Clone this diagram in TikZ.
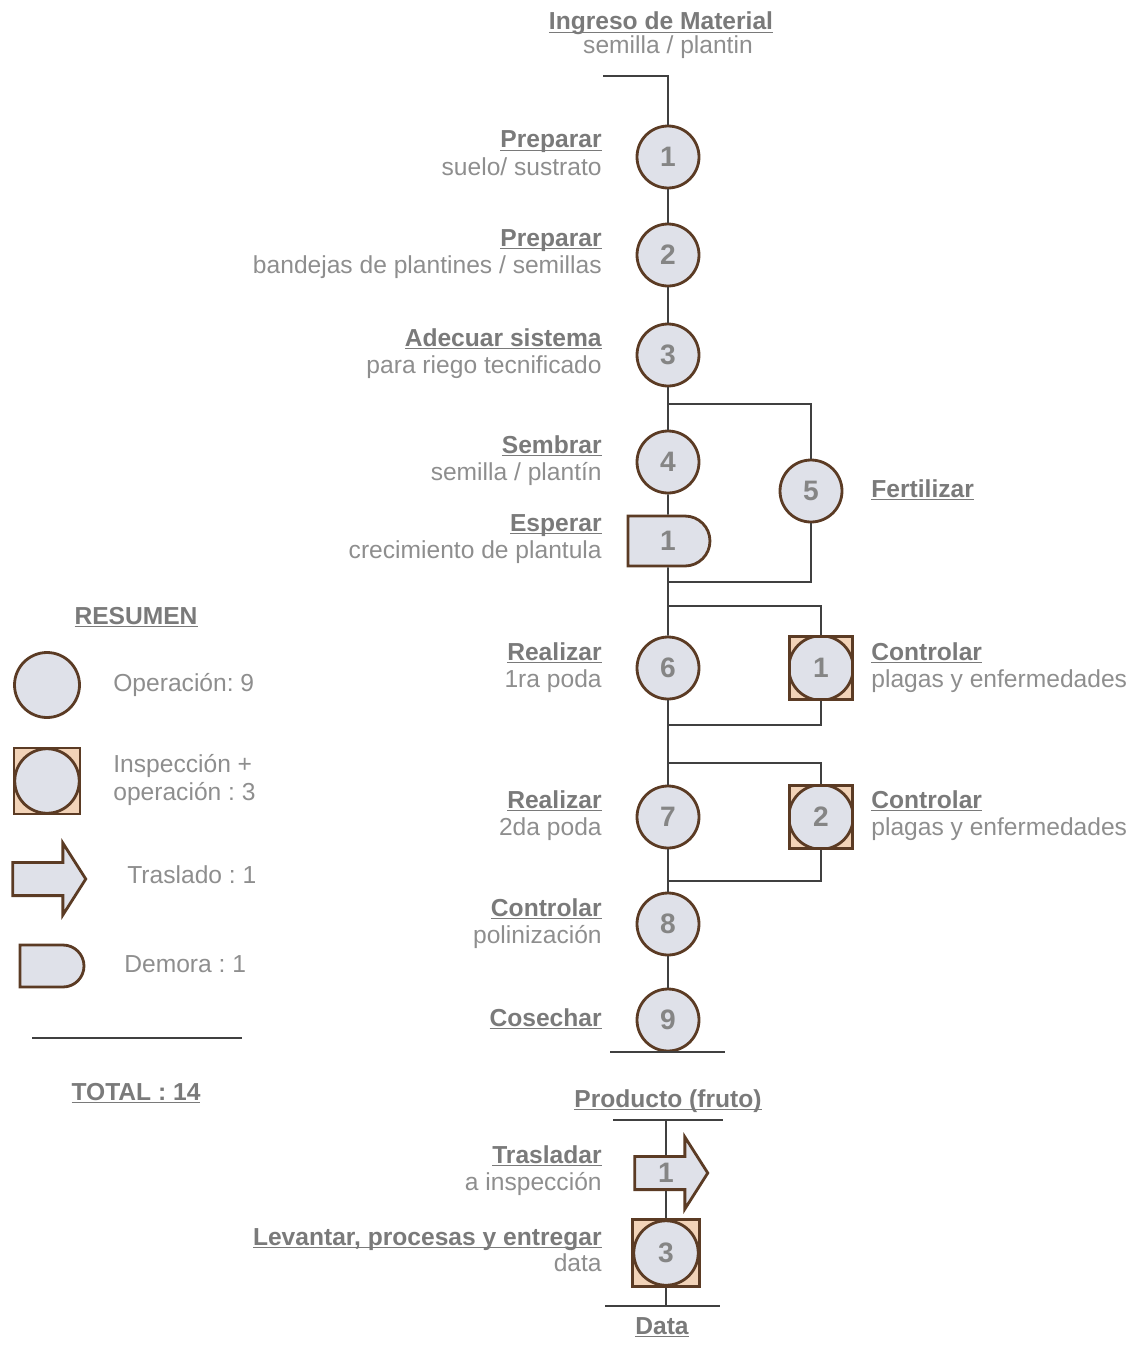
\documentclass[tikz,border=0pt]{standalone}
\usepackage{fontspec}
\setmainfont{Liberation Sans}
\usetikzlibrary{shapes.misc,shapes.arrows}

\definecolor{brn}{HTML}{5B3B24}
\definecolor{opfill}{HTML}{DFE1E9}
\definecolor{peach}{HTML}{F2D3B8}
\definecolor{ttlgray}{HTML}{7A7A7A}
\definecolor{subgray}{HTML}{8E8E8E}
\definecolor{numgray}{HTML}{858585}
\definecolor{lngray}{HTML}{404040}

\newcommand\tit[1]{\textbf{\underline{\smash{#1}}}}
\frenchspacing

\tikzset{
  op/.style={circle,draw=brn,line width=1.6pt,fill=opfill,minimum size=1.24cm,
    inner sep=0pt,text=numgray,font=\fontsize{16}{16}\selectfont\bfseries},
  insp/.style={rectangle,draw=brn,line width=1.6pt,fill=peach,minimum size=1.26cm,
    inner sep=0pt,text=numgray,font=\fontsize{16}{16}\selectfont\bfseries,
    path picture={\draw[draw=brn,line width=1.6pt,fill=opfill]
      (path picture bounding box.center) circle (0.645cm);}},
  dly/.style={rounded rectangle,rounded rectangle west arc=none,draw=brn,
    line width=1.6pt,fill=opfill,minimum width=1.64cm,minimum height=1cm,
    inner sep=0pt,text=numgray,font=\fontsize{16}{16}\selectfont\bfseries},
  trs/.style={single arrow,draw=brn,line width=1.6pt,fill=opfill,
    minimum height=1.46cm,minimum width=1.44cm,single arrow head extend=0.3cm,
    single arrow tip angle=115,inner sep=1pt,text=numgray,
    font=\fontsize{16}{16}\selectfont\bfseries},
  ttl/.style={anchor=base east,inner sep=0pt,text=ttlgray,font=\fontsize{14}{15}\selectfont},
  sub/.style={anchor=base east,inner sep=0pt,text=subgray,font=\fontsize{14}{15}\selectfont},
  rttl/.style={ttl,anchor=base west},
  rsub/.style={sub,anchor=base west},
  ln/.style={draw=lngray,line width=1.1pt}
}

\begin{document}
\begin{tikzpicture}[x=0.02cm,y=-0.02cm]
\useasboundingbox (0,0) rectangle (1126,1345);

% entrada
\node[ttl,anchor=base] (ing) at (661,30) {\tit{Ingreso de Material}};
\node[sub,anchor=base] (ings) at (668,54) {semilla / plantin};
\coordinate (in0) at (603,76);
\coordinate (in1) at (668,76);

% operaciones de la linea principal
\foreach \n/\y in {1/157,2/255,3/355,4/462,6/668,7/817,8/924,9/1020}
{
  \node[op] (o\n) at (668,\y) {\n};
}
\node[dly] (d1) at (668,541) {1};
\node[op] (o5) at (811,491) {5};
\node[insp] (i1) at (821,668) {1};
\node[insp] (i2) at (821,817) {2};
\node[trs] (tr1) at (666,1173) {1};
\node[insp,minimum size=1.34cm] (i3) at (666,1253) {3};

% textos
\node[ttl] (t1) at (602,148) {\tit{Preparar}};
\node[sub] (s1) at (602,175) {suelo/ sustrato};
\node[ttl] (t2) at (602,246) {\tit{Preparar}};
\node[sub] (s2) at (602,273) {bandejas de plantines / semillas};
\node[ttl] (t3) at (602,346) {\tit{Adecuar sistema}};
\node[sub] (s3) at (602,373) {para riego tecnificado};
\node[ttl] (t4) at (602,453) {\tit{Sembrar}};
\node[sub] (s4) at (602,480) {semilla / plantín};
\node[ttl] (td) at (602,531) {\tit{Esperar}};
\node[sub] (sd) at (602,558) {crecimiento de plantula};
\node[rttl] (t5) at (871,497) {\tit{Fertilizar}};
\node[ttl] (t6) at (602,660) {\tit{Realizar}};
\node[sub] (s6) at (602,687) {1ra poda};
\node[rttl] (ti1) at (871,660) {\tit{Controlar}};
\node[rsub] (si1) at (871,687) {plagas y enfermedades};
\node[ttl] (t7) at (602,808) {\tit{Realizar}};
\node[sub] (s7) at (602,835) {2da poda};
\node[rttl] (ti2) at (871,808) {\tit{Controlar}};
\node[rsub] (si2) at (871,835) {plagas y enfermedades};
\node[ttl] (t8) at (602,916) {\tit{Controlar}};
\node[sub] (s8) at (602,943) {polinización};
\node[ttl] (t9) at (602,1026) {\tit{Cosechar}};
\node[ttl,anchor=base] (prod) at (668,1107) {\tit{Producto (fruto)}};
\node[ttl] (ttr) at (602,1163) {\tit{Trasladar}};
\node[sub] (str) at (602,1190) {a inspección};
\node[ttl] (ti3) at (602,1245) {\tit{Levantar, procesas y entregar}};
\node[sub] (si3) at (602,1271) {data};
\node[ttl,anchor=base] (dat) at (662,1334) {\tit{Data}};

% conectores
\coordinate (b5t) at (668,404);
\coordinate (b5b) at (668,582);
\coordinate (b6t) at (668,606);
\coordinate (b6b) at (668,725);
\coordinate (b7t) at (668,763);
\coordinate (b7b) at (668,881);
\coordinate (pr0) at (668,1052);
\coordinate (prl) at (610,1052);
\coordinate (prr) at (725,1052);
\coordinate (pb0) at (666,1120);
\coordinate (pbl) at (613,1120);
\coordinate (pbr) at (723,1120);
\coordinate (dt0) at (666,1306);
\coordinate (dtl) at (605,1306);
\coordinate (dtr) at (720,1306);

\draw[ln] (in0) -- (in1) -- (o1);
\draw[ln] (o1) -- (o2);
\draw[ln] (o2) -- (o3);
\draw[ln] (o3) -- (o4);
\draw[ln] (o4) -- (d1);
\draw[ln] (d1) -- (o6);
\draw[ln] (o6) -- (o7);
\draw[ln] (o7) -- (o8);
\draw[ln] (o8) -- (o9);
\draw[ln] (o9) -- (pr0);
\draw[ln] (prl) -- (prr);
\draw[ln] (b5t) -| (o5);
\draw[ln] (o5) |- (b5b);
\draw[ln] (b6t) -| (i1);
\draw[ln] (i1) |- (b6b);
\draw[ln] (b7t) -| (i2);
\draw[ln] (i2) |- (b7b);
\draw[ln] (pbl) -- (pbr);
\draw[ln] (pb0) -- (tr1);
\draw[ln] (tr1) -- (i3);
\draw[ln] (i3) -- (dt0);
\draw[ln] (dtl) -- (dtr);

% resumen
\node[ttl,anchor=base] (res) at (136,624) {\tit{RESUMEN}};
\node[op,minimum size=1.3cm] (lop) at (47,685) {};
\node[rsub] (lops) at (113,691) {Operación: 9};
\node[insp,minimum size=1.32cm] (lin) at (47,781) {};
\node[rsub] (lins) at (113,772) {Inspección +};
\node[rsub] (lins2) at (113,800) {operación : 3};
\node[trs] (ltr) at (44,879) {\phantom{1}};
\node[rsub] (ltrs) at (127,883) {Traslado : 1};
\node[dly,minimum width=1.28cm,minimum height=0.84cm] (ldl) at (52,966) {};
\node[rsub] (ldls) at (124,972) {Demora : 1};
\coordinate (tl0) at (32,1038);
\coordinate (tl1) at (242,1038);
\draw[ln] (tl0) -- (tl1);
\node[ttl,anchor=base] (tot) at (136,1100) {\tit{TOTAL : 14}};
\end{tikzpicture}
\end{document}
